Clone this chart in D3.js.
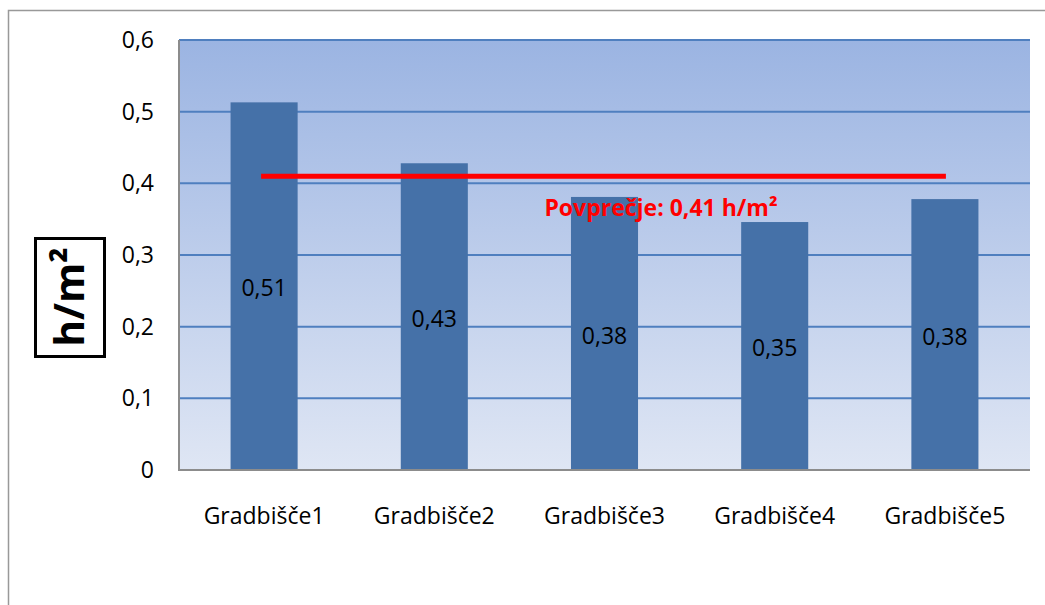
<!DOCTYPE html>
<html><head><meta charset="utf-8">
<script src="https://cdn.jsdelivr.net/npm/d3@7"></script>
<style>body{margin:0;background:#fff}svg{display:block}</style>
</head><body>
<svg id="c" width="1045" height="605"></svg>
<script>
const categories = ["Gradbišče1","Gradbišče2","Gradbišče3","Gradbišče4","Gradbišče5"];
const values = [0.513, 0.428, 0.381, 0.346, 0.378];
const valueLabels = ["0,51","0,43","0,38","0,35","0,38"];
const average = 0.41;
const averageLabel = "Povprečje: 0,41 h/m²";
const yTicks = [0, 0.1, 0.2, 0.3, 0.4, 0.5, 0.6];
const yTickLabels = ["0","0,1","0,2","0,3","0,4","0,5","0,6"];
const yTitle = "h/m²";

const svg = d3.select("#c");
const font = "'Open Sans', 'Noto Sans', sans-serif";
const m = {left:179, right:1030, top:40, bottom:470};

// outer frame
svg.append("path").attr("d","M8.5,605 V10.5 H1045").attr("fill","none").attr("stroke","#999").attr("stroke-width",1.5);

const defs = svg.append("defs");
const g = defs.append("linearGradient").attr("id","bg").attr("x1",0).attr("y1",0).attr("x2",0).attr("y2",1);
g.append("stop").attr("offset","0%").attr("stop-color","#9bb4e2");
g.append("stop").attr("offset","100%").attr("stop-color","#dfe6f4");

const x = d3.scaleBand().domain(categories).range([m.left, m.right]).paddingInner(0.606).paddingOuter(0.303);
const y = d3.scaleLinear().domain([0,0.6]).range([m.bottom, m.top]);

svg.append("rect").attr("x",m.left).attr("y",m.top).attr("width",m.right-m.left).attr("height",m.bottom-m.top).attr("fill","url(#bg)");

// gridlines
svg.append("g").selectAll("line").data(yTicks.filter(d=>d>0)).join("line")
  .attr("x1",m.left).attr("x2",m.right).attr("y1",d=>y(d)).attr("y2",d=>y(d))
  .attr("stroke","#4f7fbf").attr("stroke-width",2);

// bars
svg.append("g").selectAll("rect").data(values).join("rect")
  .attr("x",(d,i)=>x(categories[i])).attr("width",x.bandwidth())
  .attr("y",d=>y(d)).attr("height",d=>y(0)-y(d)).attr("fill","#4571a8");

// value labels
svg.append("g").selectAll("text").data(values).join("text")
  .attr("x",(d,i)=>x(categories[i])+x.bandwidth()/2).attr("y",d=>(y(d)+y(0))/2+2)
  .attr("dy","0.35em").attr("text-anchor","middle")
  .attr("font-family",font).attr("font-size",23).attr("fill","#000")
  .text((d,i)=>valueLabels[i]);

// axis lines
svg.append("line").attr("x1",m.left).attr("x2",m.left).attr("y1",m.top).attr("y2",m.bottom).attr("stroke","#8c8c8c").attr("stroke-width",2);
svg.append("line").attr("x1",m.left-1).attr("x2",m.right).attr("y1",m.bottom).attr("y2",m.bottom).attr("stroke","#8c8c8c").attr("stroke-width",2);

// y tick labels
const yAxis = d3.axisLeft(y).tickValues(yTicks).tickFormat((d,i)=>yTickLabels[i]).tickSize(0).tickPadding(25);
const ya = svg.append("g").attr("transform",`translate(${m.left},0)`).call(yAxis);
ya.select(".domain").remove();
ya.selectAll("text").attr("font-family",font).attr("font-size",23).attr("fill","#000");

// x labels
const xAxis = d3.axisBottom(x).tickSize(0).tickPadding(38);
const xa = svg.append("g").attr("transform",`translate(0,${m.bottom})`).call(xAxis);
xa.select(".domain").remove();
xa.selectAll("text").attr("font-family",font).attr("font-size",23).attr("fill","#000");

// average line
const x0 = x(categories[0]) + x.bandwidth()/2 - 3;
const x1 = x(categories[categories.length-1]) + x.bandwidth()/2 + 1;
svg.append("line").attr("x1",x0).attr("x2",x1).attr("y1",y(average)).attr("y2",y(average))
  .attr("stroke","#ff0000").attr("stroke-width",5);
svg.append("text").attr("x",661).attr("y",y(average)+40).attr("text-anchor","middle")
  .attr("font-family",font).attr("font-weight","bold").attr("font-size",23).attr("fill","#ff0000")
  .text(averageLabel);

// y title
svg.append("rect").attr("x",35.5).attr("y",238.5).attr("width",69).attr("height",118)
  .attr("fill","#fff").attr("stroke","#000").attr("stroke-width",3);
svg.append("text").attr("transform","translate(70,297) rotate(-90)").attr("text-anchor","middle")
  .attr("dy","0.35em").attr("font-family",font).attr("font-weight","bold").attr("font-size",41).attr("fill","#000")
  .text(yTitle);
</script>
</body></html>
